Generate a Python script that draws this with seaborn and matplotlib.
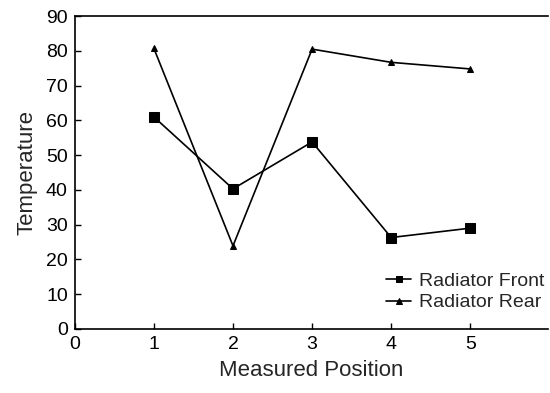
import matplotlib
matplotlib.use("Agg")
import matplotlib.pyplot as plt
import seaborn as sns
import pandas as pd

# data
positions = [1, 2, 3, 4, 5]
front_temp = [61.0, 40.3, 53.8, 26.3, 29.0]
rear_temp = [80.7, 23.9, 80.5, 76.7, 74.8]
series_names = ["Radiator Front", "Radiator Rear"]

df = pd.DataFrame({
    "pos": positions * 2,
    "temp": front_temp + rear_temp,
    "series": [series_names[0]] * 5 + [series_names[1]] * 5,
})

sns.set_style("ticks")
plt.rcParams["font.family"] = ["Liberation Sans", "DejaVu Sans"]

fig = plt.figure(figsize=(5.5, 3.93), dpi=100)
ax = fig.add_axes([0.136, 0.163, 0.86, 0.796])

sns.lineplot(data=df, x="pos", y="temp", hue="series", style="series",
             palette=["black", "black"], markers=["s", "^"], dashes=False,
             markersize=6.5, linewidth=1.2, markeredgecolor="black", ax=ax)
# smaller triangle markers for the rear series
ax.lines[1].set_markersize(4)

ax.set_xlim(0, 5.98)
ax.set_ylim(0, 90)
ax.set_xticks(range(0, 6))
ax.set_yticks(range(0, 91, 10))
ax.tick_params(direction="in", labelsize=14, length=4, width=1, colors="black", pad=5)
for s in ["left", "bottom", "top"]:
    ax.spines[s].set_linewidth(1.2)
    ax.spines[s].set_color("black")
ax.spines["right"].set_visible(False)
ax.set_xlabel("Measured Position", fontsize=16, labelpad=5)
ax.set_ylabel("Temperature", fontsize=16, labelpad=6)

leg = ax.legend(loc="lower right", frameon=False, fontsize=14,
                handlelength=1.3, handletextpad=0.4, labelspacing=0.2,
                bbox_to_anchor=(1.03, 0.0))
for h in leg.legend_handles:
    h.set_markersize(4)

fig.savefig("out.png", dpi=100)
